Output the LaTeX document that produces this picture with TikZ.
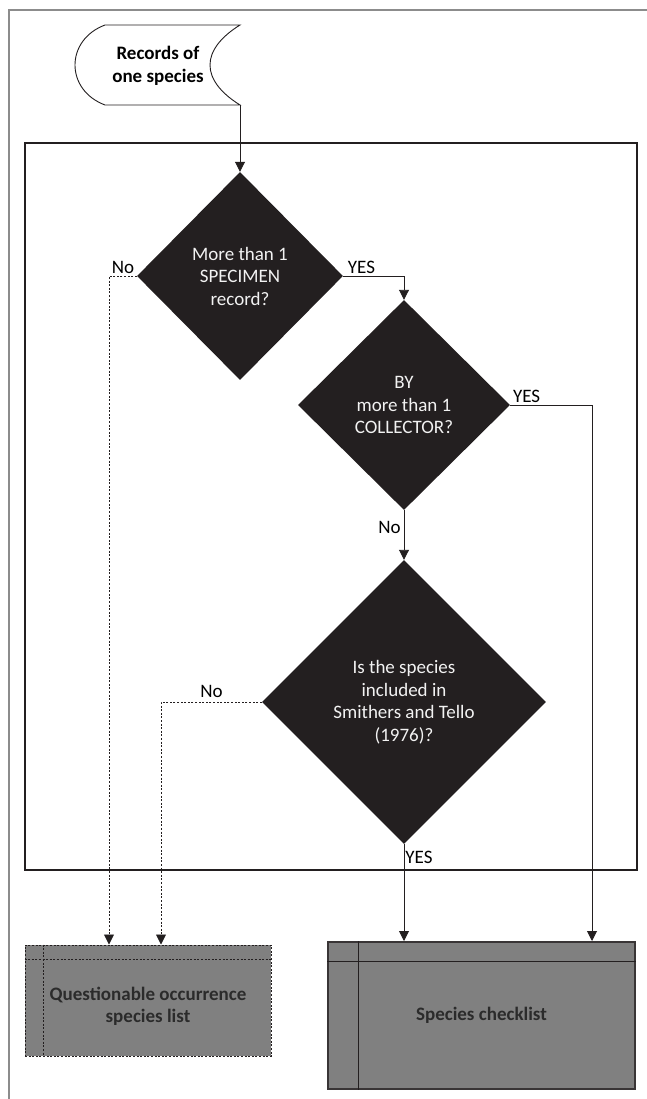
\documentclass[tikz,border=0pt]{standalone}
\usepackage{fontspec}
\setmainfont{Carlito}
\usepackage{tikz}
\usetikzlibrary{positioning, shapes.geometric, arrows.meta}
\usepackage{xcolor}
\definecolor{flowdark}{HTML}{231F20}
\definecolor{flowgray}{HTML}{808080}
\definecolor{flowframe}{HTML}{8C8C8C}
\definecolor{flowtext}{HTML}{2B2B2B}
\definecolor{flowlight}{HTML}{F2F2F2}

\begin{document}
\begin{tikzpicture}[x=1pt, y=-1pt, font=\fontsize{19}{22.5}\selectfont,
    decision/.style={diamond, fill=flowdark, text=flowlight, inner sep=0pt, align=center},
    flowarrow/.style={-{Triangle[width=10pt,length=10pt]}, draw=flowdark, line width=0.9pt},
    noarrow/.style={flowarrow, dash pattern=on 2pt off 1.6pt},
    listbox/.style={fill=flowgray, text=flowtext, font=\fontsize{19}{22.5}\selectfont\bfseries, align=center, inner sep=0pt}]
    \useasboundingbox (0,0) rectangle (647,1099);

    % frames
    \draw[flowframe, line width=1.4pt] (9,1099) -- (9,10) -- (647,10);
    \draw[flowdark, line width=1.1pt] (25,143) rectangle (637,870);

    % start
    \draw[flowdark, line width=0.9pt, fill=white] (105,25) -- (240,25)
        .. controls (200,50) and (200,80) .. (240,105) -- (105,105)
        .. controls (65,90) and (65,40) .. (105,25) -- cycle;
    \node[font=\fontsize{19}{22.5}\selectfont\bfseries, align=center] (rec) at (158,66) {Records of\\one species};
    \coordinate (recout) at (240,105);

    % decisions
    \node[decision, minimum width=206pt, minimum height=208pt] (d1) at (240,276)
        {More than 1\\SPECIMEN\\record?};
    \node[decision, minimum width=212pt, minimum height=210pt] (d2) at (404,405)
        {BY\\more than 1\\COLLECTOR?};
    \node[decision, minimum width=284pt, minimum height=284pt] (d3) at (404,702)
        {Is the species\\included in\\Smithers and Tello\\(1976)?};

    % outputs
    \node[listbox, draw=flowdark, line width=1pt, dash pattern=on 2pt off 1.6pt,
          minimum width=246pt, minimum height=111pt,
          label={[yshift=-6pt, text=flowtext, align=center,
                  font=\fontsize{19}{22.5}\selectfont\bfseries]center:Questionable occurrence\\species list}]
          (qlist) at (148,1000.5) {};
    \node[listbox, draw=flowdark!90, line width=2pt,
          minimum width=307pt, minimum height=147pt] (chk) at (481.5,1015.5)
          {Species checklist};
    \draw[flowdark, line width=0.9pt, dash pattern=on 2pt off 1.6pt]
        ([yshift=-15pt]qlist.north west) -- ([yshift=-15pt]qlist.north east)
        ([xshift=19pt]qlist.north west) -- ([xshift=19pt]qlist.south west);
    \draw[flowdark, line width=1pt]
        ([yshift=-20pt]chk.north west) -- ([yshift=-20pt]chk.north east)
        ([xshift=31pt]chk.north west) -- ([xshift=31pt]chk.south west);

    % bends
    \coordinate (n1) at (109,276);
    \coordinate (y1) at (404,276);
    \coordinate (y2) at (592,405);
    \coordinate (n3) at (161,702);

    % connectors
    \draw[flowarrow] (recout) -- (d1.north);
    \draw[flowarrow] (d1.east) -- node[above, pos=0.3, inner sep=2pt] {YES} (y1) -- (d2.north);
    \draw[noarrow] (d1.west) -- node[above, inner sep=2pt] {No} (n1) -- (n1 |- qlist.north);
    \draw[flowarrow] (d2.east) -- node[above, pos=0.2, inner sep=2pt] {YES} (y2) -- (y2 |- chk.north);
    \draw[flowarrow] (d2.south) -- node[left, pos=0.35, inner sep=3pt] {No} (d3.north);
    \draw[noarrow] (d3.west) -- node[above, inner sep=4pt] {No} (n3) -- (n3 |- qlist.north);
    \draw[flowarrow] (d3.south) -- node[right, pos=0.14, inner sep=1pt] {YES} (d3.south |- chk.north);
  \end{tikzpicture}
\end{document}
